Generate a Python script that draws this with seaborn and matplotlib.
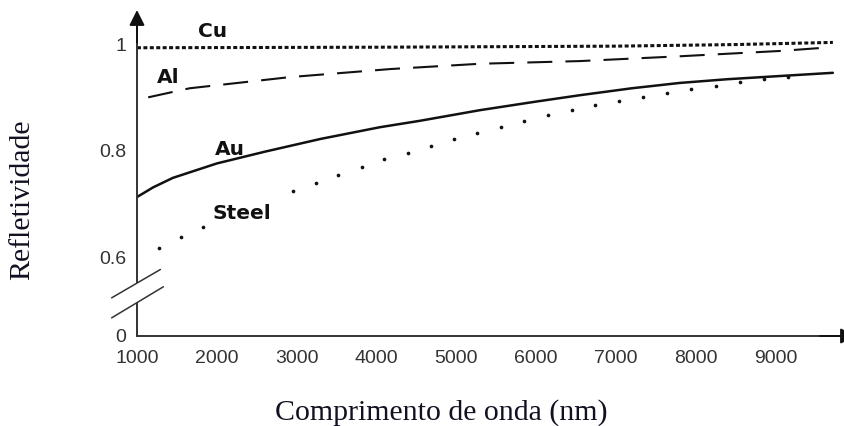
import numpy as np
import matplotlib
matplotlib.use("Agg")
import matplotlib.pyplot as plt
import seaborn as sns

# ---- data ----
cu_wl = [1000, 4000, 7000, 8500, 9720]
cu_r = [0.993, 0.994, 0.996, 0.999, 1.003]

al_wl = [1140, 1660, 2920, 4170, 5300, 6550, 7800, 9060, 9700]
al_r = [0.900, 0.917, 0.938, 0.953, 0.963, 0.968, 0.977, 0.987, 0.994]

au_wl = [1000, 1200, 1450, 2000, 2600, 3300, 4045, 4545, 5300, 6000, 6550,
         7200, 7800, 8400, 9060, 9720]
au_r = [0.713, 0.731, 0.749, 0.776, 0.798, 0.822, 0.844, 0.856, 0.876, 0.892,
        0.904, 0.917, 0.927, 0.934, 0.940, 0.946]

steel_wl = [1275, 1550, 1830, 2955, 3240, 3520, 3820, 4095, 4395, 4684, 4972,
            5261, 5561, 5850, 6150, 6451, 6739, 7040, 7341, 7642, 7942, 8256,
            8556, 8857, 9158]
steel_r = [0.617, 0.638, 0.656, 0.724, 0.739, 0.754, 0.769, 0.784, 0.795, 0.808,
           0.822, 0.833, 0.844, 0.855, 0.867, 0.876, 0.885, 0.893, 0.900, 0.908,
           0.915, 0.921, 0.929, 0.934, 0.938]

x_ticks = [1000, 2000, 3000, 4000, 5000, 6000, 7000, 8000, 9000]
y_ticks = [0, 0.6, 0.8, 1.0]
y_tick_labels = ["0", "0.6", "0.8", "1"]

labels = ["Cu", "Al", "Au", "Steel"]
label_x = [1952, 1388, 2165, 2316]
label_y = [1.013, 0.927, 0.792, 0.671]

# ---- style ----
sns.set_theme(style="white")
plt.rcParams["font.family"] = ["Liberation Sans", "DejaVu Sans"]

W, H = 845, 426
fig = plt.figure(figsize=(W / 100, H / 100), dpi=100)
left_px, right_px, bottom_px, top_px = 137, 856, 336, 10
ax = fig.add_axes([left_px / W, (H - bottom_px) / H,
                   (right_px - left_px) / W, (bottom_px - top_px) / H])

# broken y-axis: compress region below 0.6
K = 0.246
def fwd(y):
    y = np.asarray(y, dtype=float)
    return np.where(y >= 0.6, y, 0.6 - (0.6 - y) * K)
def inv(t):
    t = np.asarray(t, dtype=float)
    return np.where(t >= 0.6, t, 0.6 - (0.6 - t) / K)
ax.set_yscale("function", functions=(fwd, inv))

ink = "#111111"
sns.lineplot(x=cu_wl, y=cu_r, ax=ax, color=ink, lw=2.2,
             linestyle=(0, (1.3, 0.8)))
sns.lineplot(x=al_wl, y=al_r, ax=ax, color=ink, lw=1.5,
             linestyle=(0, (12, 6.3)))
sns.lineplot(x=au_wl, y=au_r, ax=ax, color=ink, lw=1.8)
sns.scatterplot(x=steel_wl, y=steel_r, ax=ax, color=ink, s=7, linewidth=0)

ax.set_xlim(1000, 1000 + (right_px - left_px) / 79.8 * 1000)
ax.set_ylim(0, 1.0638)
ax.set_xticks(x_ticks)
ax.set_xticklabels([str(v) for v in x_ticks])
ax.set_yticks(y_ticks)
ax.set_yticklabels(y_tick_labels)
ax.tick_params(axis="both", direction="out", length=7, width=1.1,
               color="#333333", labelsize=14, labelcolor="#333333", pad=3)
ax.tick_params(axis="y", pad=1)
ax.set_xlabel("")
ax.set_ylabel("")

for s in ["top", "right", "left"]:
    ax.spines[s].set_visible(False)
ax.spines["bottom"].set_color("#333333")
ax.spines["bottom"].set_linewidth(1.4)

axis_col = "#333333"
# y axis in two segments with a gap at the break
gap_lo, gap_hi = 0.102, 0.164
ax.plot([0, 0], [0, gap_lo], transform=ax.transAxes, color=axis_col,
        lw=1.4, clip_on=False, solid_capstyle="butt")
ax.plot([0, 0], [gap_hi, 0.96], transform=ax.transAxes, color=axis_col,
        lw=1.4, clip_on=False, solid_capstyle="butt")
# break marks
ax.plot([-0.0353, 0.0325], [0.117, 0.204], transform=ax.transAxes,
        color=axis_col, lw=1.1, clip_on=False)
ax.plot([-0.0353, 0.0367], [0.0556, 0.151], transform=ax.transAxes,
        color=axis_col, lw=1.1, clip_on=False)
# arrow heads
ax.annotate("", xy=(0, 1.0), xytext=(0, 0.9), xycoords="axes fraction",
            textcoords="axes fraction",
            arrowprops=dict(arrowstyle="-|>", color=ink, lw=1.4,
                            mutation_scale=23, shrinkA=0, shrinkB=0))
ax.annotate("", xy=(1.0, 0), xytext=(0.95, 0), xycoords="axes fraction",
            textcoords="axes fraction",
            arrowprops=dict(arrowstyle="-|>", color=ink, lw=1.4,
                            mutation_scale=23, shrinkA=0, shrinkB=0))

for t, x, y in zip(labels, label_x, label_y):
    ax.text(x, y, t, ha="center", va="baseline", fontsize=14.5,
            fontweight="bold", family=["DejaVu Sans"], color=ink)

fig.text(275 / W, (H - 420) / H, "Comprimento de onda (nm)", ha="left",
         va="baseline", fontsize=21.5, family=["Liberation Serif"], color="#111122")
fig.text(22 / W, (H - 200) / H, "Refletividade", ha="center", va="center",
         rotation=90, fontsize=21.5, family=["Liberation Serif"], color="#111122")

fig.savefig("out.png", dpi=100, facecolor="white")
